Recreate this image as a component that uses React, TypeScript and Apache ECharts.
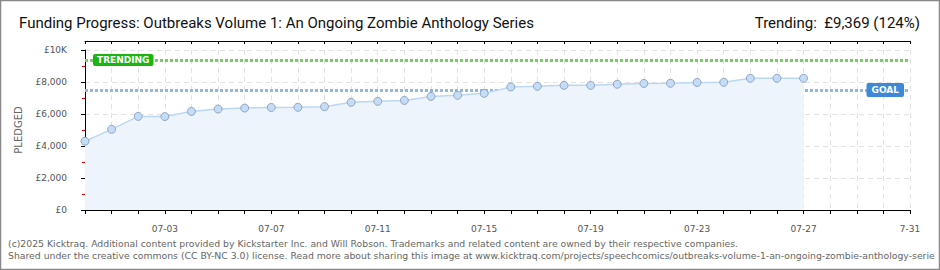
import React, { useEffect, useRef } from "react";
import * as echarts from "echarts";

// Days on the x axis: index 0 = 06-30 ... index 31 = 07-31
const dayLabels = [
  "06-30", "07-01", "07-02", "07-03", "07-04", "07-05", "07-06", "07-07",
  "07-08", "07-09", "07-10", "07-11", "07-12", "07-13", "07-14", "07-15",
  "07-16", "07-17", "07-18", "07-19", "07-20", "07-21", "07-22", "07-23",
  "07-24", "07-25", "07-26", "07-27", "07-28", "07-29", "07-30", "7-31",
];
const xLabelEvery = 4;
const xLabelFirst = 3;

// Pledged amounts (GBP) per day from 06-30 to 07-27
const pledged = [
  4300, 5040, 5850, 5840, 6160, 6310, 6370, 6410, 6420, 6460,
  6730, 6790, 6850, 7100, 7170, 7290, 7690, 7730, 7790, 7790,
  7860, 7910, 7920, 7970, 7980, 8230, 8230, 8230,
];

const goal = 7500;
const trending = 9369;

const yTickLabels = ["£0", "£2,000", "£4,000", "£6,000", "£8,000", "£10K"];
const yMax = 10000;
const yStep = 2000;

const titleText = "Funding Progress: Outbreaks Volume 1: An Ongoing Zombie Anthology Series";
const trendingText = "Trending:  £9,369 (124%)";
const footerLines = [
  "(c)2025 Kicktraq. Additional content provided by Kickstarter Inc. and Will Robson. Trademarks and related content are owned by their respective companies.",
  "Shared under the creative commons (CC BY-NC 3.0) license. Read more about sharing this image at www.kicktraq.com/projects/speechcomics/outbreaks-volume-1-an-ongoing-zombie-anthology-series/",
];

const TICK_FONT = "DejaVu Sans";
const TITLE_FONT = "Roboto, sans-serif";

export default function App() {
  const ref = useRef<HTMLDivElement>(null);

  useEffect(() => {
    document.body.style.margin = "0";
    if (!ref.current) return;
    const chart = echarts.init(ref.current, undefined, { renderer: "svg" });

    const xLabelFormatter = (v: number) =>
      v >= xLabelFirst && (v - xLabelFirst) % xLabelEvery === 0 ? dayLabels[v] : "";

    const baseX = {
      type: "value",
      min: 0,
      max: dayLabels.length - 1,
      interval: 1,
      offset: 9,
      axisLine: { show: true, lineStyle: { color: "#000", width: 1 } },
    };

    chart.setOption({
      animation: false,
      backgroundColor: "#fff",
      grid: { left: 85, right: 30, top: 50, bottom: 60, containLabel: false },
      xAxis: [
        {
          ...baseX,
          axisTick: { show: true, length: 4, inside: false, lineStyle: { color: "#000" } },
          axisLabel: {
            formatter: xLabelFormatter,
            color: "#555",
            fontFamily: TICK_FONT,
            fontSize: 9,
            margin: 5,
            hideOverlap: false,
          },
          splitLine: { show: true, lineStyle: { color: "#e2e2e2", type: [5, 4], width: 1 } },
        },
        {
          ...baseX,
          axisTick: { show: true, length: 3, inside: true, lineStyle: { color: "#000" } },
          axisLabel: { show: false },
          splitLine: { show: false },
        },
      ],
      yAxis: {
        type: "value",
        min: 0,
        max: yMax,
        interval: yStep,
        offset: 10,
        axisLine: { show: true, lineStyle: { color: "#000", width: 1 } },
        axisTick: { show: true, length: 4, lineStyle: { color: "#000" } },
        minorTick: { show: true, splitNumber: 2, length: 3, lineStyle: { color: "#e00000" } },
        axisLabel: {
          formatter: (v: number) => yTickLabels[Math.round(v / yStep)],
          color: "#555",
          fontFamily: TICK_FONT,
          fontSize: 9,
          margin: 8,
        },
        splitLine: { show: true, lineStyle: { color: "#e2e2e2", type: [5, 4], width: 1 } },
        name: "PLEDGED",
        nameLocation: "middle",
        nameGap: 52,
        nameRotate: 90,
        nameTextStyle: { color: "#666", fontFamily: TICK_FONT, fontSize: 10 },
      },
      series: [
        {
          type: "line",
          xAxisIndex: 0,
          data: pledged.map((v, i) => [i, v]),
          symbol: "circle",
          symbolSize: 8,
          itemStyle: { color: "#c4dcf6", borderColor: "#8fa6c4", borderWidth: 1 },
          lineStyle: { color: "#bcd7f3", width: 1.5 },
          areaStyle: { color: "#eef4fc", opacity: 1 },
          z: 3,
          markLine: {
            silent: true,
            symbol: "none",
            z: 2,
            data: [
              {
                yAxis: trending,
                lineStyle: { color: "#76cb66", type: [3, 2], width: 3 },
                label: {
                  show: true,
                  position: "insideStart",
                  distance: 8,
                  formatter: "TRENDING",
                  color: "#fff",
                  backgroundColor: "#1cb40e",
                  borderRadius: 2,
                  padding: [2, 4, 1, 4],
                  fontFamily: TICK_FONT,
                  fontSize: 9,
                  fontWeight: "bold",
                },
              },
              {
                yAxis: goal,
                lineStyle: { color: "#92b6e0", type: [3, 2], width: 3 },
                label: {
                  show: true,
                  position: "insideEnd",
                  distance: 6,
                  formatter: "GOAL",
                  color: "#fff",
                  backgroundColor: "#3d88d8",
                  borderRadius: 2,
                  padding: [3, 5, 2, 5],
                  fontFamily: TICK_FONT,
                  fontSize: 9,
                  fontWeight: "bold",
                },
              },
            ],
          },
        },
      ],
      graphic: [
        {
          type: "rect",
          shape: { x: 0.5, y: 0.5, width: 939, height: 269 },
          style: { fill: "none", stroke: "#888", lineWidth: 1.5 },
          silent: true,
          z: 100,
        },
        {
          type: "text",
          x: 19,
          y: 23,
          style: {
            text: titleText,
            fill: "#111",
            font: `15px ${TITLE_FONT}`,
            textVerticalAlign: "middle",
          },
        },
        {
          type: "text",
          x: 920,
          y: 23,
          style: {
            text: trendingText,
            fill: "#111",
            font: `15px ${TITLE_FONT}`,
            textAlign: "right",
            textVerticalAlign: "middle",
          },
        },
        {
          type: "text",
          x: 8,
          y: 243,
          style: {
            text: footerLines[0],
            fill: "#666",
            font: `9.3px 'DejaVu Sans', sans-serif`,
            textVerticalAlign: "middle",
          },
        },
        {
          type: "text",
          x: 8,
          y: 255,
          style: {
            text: footerLines[1],
            width: 928,
            overflow: "truncate",
            ellipsis: "",
            fill: "#666",
            font: `9.3px 'DejaVu Sans', sans-serif`,
            textVerticalAlign: "middle",
          },
        },
      ],
    });

    return () => chart.dispose();
  }, []);

  return <div ref={ref} style={{ width: 940, height: 270 }} />;
}
